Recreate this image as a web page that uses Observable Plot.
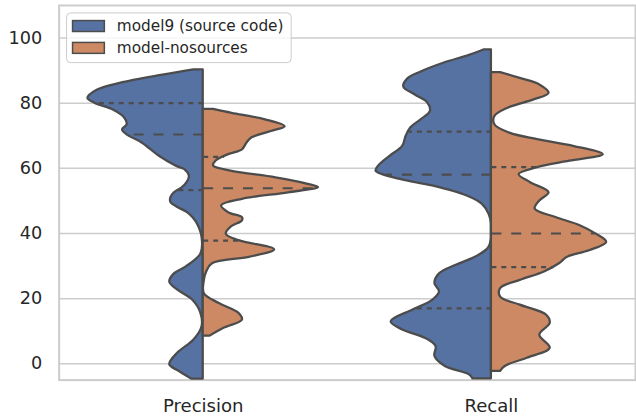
<!DOCTYPE html>
<html>
<head>
<meta charset="utf-8">
<script src="https://cdn.jsdelivr.net/npm/d3@7"></script>
<script src="https://cdn.jsdelivr.net/npm/@observablehq/plot@0.6"></script>
<style>
html, body { margin: 0; padding: 0; background: #ffffff; overflow: hidden; width: 636px; height: 419px; }
#chart { position: relative; width: 636px; height: 419px; overflow: hidden; }
</style>
</head>
<body>
<div id="chart"></div>
<script>
// ---------- data ----------
const metrics = ["Precision", "Recall"];
const models = ["model9 (source code)", "model-nosources"];
const modelColors = ["#5672a2", "#cc8963"];
const yTicks = [0, 20, 40, 60, 80, 100];

// density profiles: [value, relative half-width (1 = widest)]
const precisionModel9 = [
  [90.2, 0.08], [88.6, 0.35], [86.1, 0.72], [84.0, 0.92], [81.5, 1.00], [80.0, 0.94],
  [77.9, 0.78], [75.4, 0.68], [73.4, 0.66], [71.8, 0.70], [70.3, 0.66], [67.8, 0.53],
  [63.7, 0.38], [60.6, 0.23], [59.6, 0.16], [57.6, 0.12], [55.6, 0.14], [54.1, 0.18],
  [52.5, 0.25], [51.0, 0.28], [49.5, 0.28], [48.0, 0.22], [46.5, 0.14], [44.9, 0.09],
  [42.9, 0.05], [38.8, 0.01], [33.7, 0.02], [29.7, 0.15], [27.6, 0.25], [25.1, 0.29],
  [22.6, 0.22], [19.5, 0.09], [15.5, 0.02], [11.4, 0.01], [7.3, 0.08], [3.3, 0.22],
  [-0.3, 0.29], [-2.3, 0.21], [-4.7, 0.10]
];
const precisionNoSources = [
  [78.1, 0.09], [76.9, 0.25], [74.9, 0.54], [72.8, 0.71], [71.3, 0.59], [69.3, 0.42],
  [67.8, 0.38], [65.7, 0.34], [64.2, 0.22], [62.2, 0.11], [60.7, 0.09], [59.1, 0.25],
  [57.1, 0.63], [55.1, 0.91], [54.1, 1.00], [52.5, 0.74], [50.5, 0.34], [48.5, 0.16],
  [46.4, 0.22], [44.9, 0.34], [43.9, 0.34], [41.9, 0.24], [39.8, 0.20], [37.8, 0.31],
  [35.0, 0.62], [32.7, 0.40], [30.7, 0.08], [28.2, 0.03], [25.6, 0.01], [21.5, 0.01],
  [18.5, 0.14], [15.5, 0.31], [13.4, 0.34], [10.9, 0.18], [8.5, 0.06]
];
const recallModel9 = [
  [96.4, 0.06], [94.7, 0.19], [92.2, 0.42], [89.6, 0.61], [87.6, 0.72], [85.0, 0.76],
  [82.5, 0.66], [80.0, 0.55], [77.4, 0.53], [74.9, 0.61], [72.4, 0.70], [69.8, 0.74],
  [66.7, 0.77], [63.7, 0.88], [60.6, 0.98], [59.1, 1.00], [56.6, 0.79], [54.6, 0.51],
  [51.5, 0.21], [49.0, 0.08], [45.9, 0.02], [42.9, 0.00], [35.8, 0.02], [32.7, 0.14],
  [30.2, 0.31], [27.6, 0.45], [24.6, 0.49], [22.1, 0.45], [19.5, 0.51], [16.5, 0.68],
  [12.9, 0.87], [10.4, 0.77], [7.8, 0.57], [5.3, 0.48], [2.3, 0.49], [-0.8, 0.40],
  [-3.4, 0.19], [-4.6, 0.16]
];
const recallNoSources = [
  [89.4, 0.08], [87.6, 0.25], [85.6, 0.42], [83.0, 0.50], [81.0, 0.37], [78.4, 0.14],
  [75.9, 0.03], [73.4, 0.03], [70.8, 0.16], [68.8, 0.40], [66.7, 0.72], [64.2, 0.97],
  [62.2, 0.68], [60.2, 0.40], [58.1, 0.24], [55.6, 0.34], [52.5, 0.50], [50.0, 0.42],
  [47.5, 0.38], [44.9, 0.56], [42.4, 0.77], [39.8, 0.91], [37.3, 1.00], [34.7, 0.85],
  [32.7, 0.66], [30.7, 0.59], [28.2, 0.46], [25.6, 0.25], [23.1, 0.08], [20.5, 0.08],
  [18.0, 0.25], [14.9, 0.48], [12.4, 0.51], [8.8, 0.42], [4.8, 0.51], [1.7, 0.31],
  [-0.8, 0.12], [-2.3, 0.08]
];

// quartiles [q1, median, q3]
const precisionModel9Quartiles = [53.3, 70.4, 80.0];
const precisionNoSourcesQuartiles = [37.8, 53.9, 63.5];
const recallModel9Quartiles = [17.0, 58.1, 71.3];
const recallNoSourcesQuartiles = [29.7, 40.0, 60.4];

// ---------- build ----------
const halfWidth = 0.4;     // seaborn width 0.8 split in two halves
const edgeGray = "#4c4c4c";

const violins = [
  {metric: 0, model: 0, pts: precisionModel9, q: precisionModel9Quartiles},
  {metric: 0, model: 1, pts: precisionNoSources, q: precisionNoSourcesQuartiles},
  {metric: 1, model: 0, pts: recallModel9, q: recallModel9Quartiles},
  {metric: 1, model: 1, pts: recallNoSources, q: recallNoSourcesQuartiles}
];

function densityAt(pts, v) {
  for (let i = 0; i < pts.length - 1; i++) {
    const [a, da] = pts[i], [b, db] = pts[i + 1];
    if ((v <= a && v >= b) || (v >= a && v <= b)) {
      const t = (v - a) / (b - a);
      return da + t * (db - da);
    }
  }
  return 0;
}

const marks = [
  Plot.gridY(yTicks, {stroke: "#cccccc", strokeOpacity: 1, strokeWidth: 1.5}),
  Plot.frame({stroke: "#cccccc", strokeWidth: 2})
];

const medianRows = [], quartRows = [];
for (const v of violins) {
  const side = v.model === 0 ? -1 : 1;
  const rows = v.pts.map(([val, d]) => ({y: val, x1: v.metric, x2: v.metric + side * halfWidth * d}));
  marks.push(Plot.areaX(rows, {
    y: "y", x1: "x1", x2: "x2",
    fill: modelColors[v.model], stroke: edgeGray, strokeWidth: 2.3,
    strokeLinejoin: "round",
    curve: "catmull-rom"
  }));
  v.q.forEach((val, i) => {
    const row = {y: val, x1: v.metric, x2: v.metric + side * halfWidth * densityAt(v.pts, val)};
    (i === 1 ? medianRows : quartRows).push(row);
  });
}
marks.push(Plot.link(medianRows, {x1: "x1", x2: "x2", y1: "y", y2: "y", stroke: edgeGray, strokeWidth: 2.2, strokeDasharray: "10,10"}));
marks.push(Plot.link(quartRows, {x1: "x1", x2: "x2", y1: "y", y2: "y", stroke: edgeGray, strokeWidth: 2.2, strokeDasharray: "5,5"}));

marks.push(Plot.axisY(yTicks, {tickSize: 0, tickPadding: 17, label: null, fontSize: 17.8}));
marks.push(Plot.axisX([0, 1], {tickSize: 0, tickPadding: 19, label: null, fontSize: 18.2, tickFormat: i => metrics[i]}));

const chart = Plot.plot({
  width: 640,
  height: 419,
  marginLeft: 59,
  marginRight: 1,
  marginTop: 5,
  marginBottom: 37,
  x: {domain: [-0.5, 1.5], axis: null},
  y: {domain: [-5, 110], axis: null},
  style: {fontFamily: "'DejaVu Sans', sans-serif", fontSize: "17.6px", color: "#262626", background: "#ffffff"},
  marks
});

// ---------- legend ----------
const svg = d3.select(chart);
const lg = svg.append("g").attr("class", "legend").attr("text-anchor", "start");
lg.append("rect").attr("x", 67).attr("y", 13).attr("width", 226).attr("height", 50)
  .attr("rx", 4).attr("fill", "#ffffff").attr("fill-opacity", 0.8)
  .attr("stroke", "#cccccc").attr("stroke-width", 1);
models.forEach((m, i) => {
  const y0 = 20.7 + i * 22;
  lg.append("rect").attr("x", 73).attr("y", y0).attr("width", 32).attr("height", 11)
    .attr("fill", modelColors[i]).attr("stroke", edgeGray).attr("stroke-width", 1.5);
  lg.append("text").attr("x", 117.5).attr("y", y0 + 11)
    .attr("text-anchor", "start")
    .attr("font-size", 15.4).attr("fill", "#262626")
    .attr("font-family", "'DejaVu Sans', sans-serif").text(m);
});

document.getElementById("chart").appendChild(chart);
</script>
</body>
</html>
